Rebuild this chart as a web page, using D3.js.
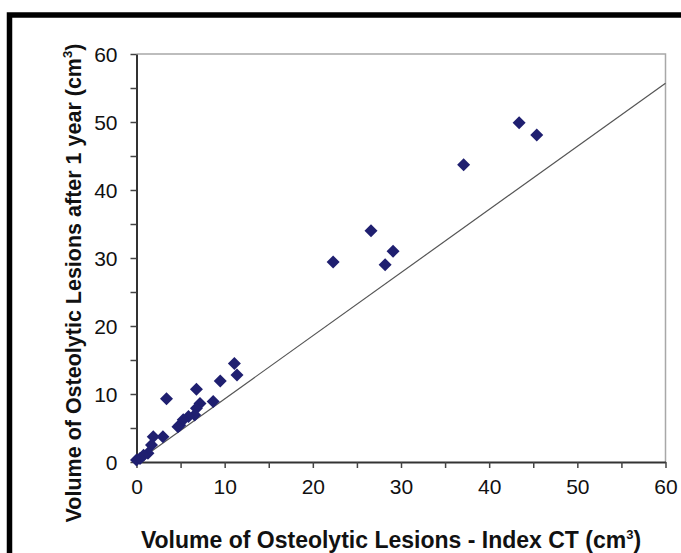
<!DOCTYPE html>
<html>
<head>
<meta charset="utf-8">
<script src="https://cdn.jsdelivr.net/npm/d3@7"></script>
<style>
  body { margin: 0; background: #fff; }
  svg { display: block; font-family: "Liberation Sans", Arial, sans-serif; }
</style>
</head>
<body>
<svg id="chart" width="681" height="553"></svg>
<script>
// lesion volumes, index CT (x) vs after 1 year (y), cm3
const indexCT = [43.4, 45.4, 37.1, 26.6, 29.1, 28.2, 22.3,
  11.1, 11.4, 9.5, 6.8, 3.4, 8.7, 7.2, 6.8, 6.6, 5.9, 5.3, 4.9, 4.7,
  3.0, 1.9, 1.7, 1.3, 0.8, 0.0, 0.4];
const afterYear = [49.9, 48.1, 43.7, 34.0, 31.0, 29.0, 29.4,
  14.5, 12.8, 11.9, 10.7, 9.3, 8.9, 8.6, 7.9, 6.9, 6.7, 6.2, 5.4, 5.2,
  3.7, 3.7, 2.5, 1.3, 1.0, 0.3, 0.5];
const fitLine = [[0, 0], [60, 55.7]];
const tickVals = d3.range(0, 61, 5);

const svg = d3.select('#chart');
const margin = { left: 136.5, right: 665.5, top: 54, bottom: 462 };

const x = d3.scaleLinear().domain([0, 60]).range([margin.left, margin.right]);
const y = d3.scaleLinear().domain([0, 60]).range([margin.bottom, margin.top]);

// black frame of the figure panel
svg.append('rect')
  .attr('x', 9.5).attr('y', 15)
  .attr('width', 700).attr('height', 560)
  .attr('fill', 'none')
  .attr('stroke', '#000')
  .attr('stroke-width', 5.5);

// plot box, top and right in grey
svg.append('path')
  .attr('d', `M${x(0)},${y(60)}H${x(60)}V${y(0)}`)
  .attr('fill', 'none')
  .attr('stroke', '#a8a8a8')
  .attr('stroke-width', 1.5);

// fit line
svg.append('line')
  .attr('x1', x(fitLine[0][0])).attr('y1', y(fitLine[0][1]))
  .attr('x2', x(fitLine[1][0])).attr('y2', y(fitLine[1][1]))
  .attr('stroke', '#555')
  .attr('stroke-width', 1.2);

const fmt = d => (d % 10 === 0 ? d : '');

const xAxis = svg.append('g')
  .attr('transform', `translate(0,${y(0)})`)
  .call(d3.axisBottom(x).tickValues(tickVals).tickFormat(fmt).tickSize(6).tickSizeOuter(0));
const yAxis = svg.append('g')
  .attr('transform', `translate(${x(0)},0)`)
  .call(d3.axisLeft(y).tickValues(tickVals).tickFormat(fmt).tickSize(6).tickSizeOuter(0));

[xAxis, yAxis].forEach(function (g) {
  g.attr('font-size', 21).attr('font-family', '"Liberation Sans", Arial, sans-serif');
  g.select('.domain').attr('stroke', '#333').attr('stroke-width', 2);
  g.selectAll('.tick line').attr('stroke', '#444').attr('stroke-width', 1.5);
  g.selectAll('.tick text').attr('fill', '#111');
});
xAxis.selectAll('.tick text').attr('y', 17).attr('dy', '0.71em');
yAxis.selectAll('.tick text').attr('x', -19).attr('dy', '0.36em');

// points
const pts = indexCT.map(function (v, i) { return [v, afterYear[i]]; });
svg.append('g')
  .selectAll('path')
  .data(pts)
  .enter()
  .append('path')
  .attr('transform', function (d) { return `translate(${x(d[0])},${y(d[1])})`; })
  .attr('d', 'M0,-6.5L6.5,0L0,6.5L-6.5,0Z')
  .attr('fill', '#1f1f70');

// axis titles
const xt = svg.append('text')
  .attr('x', 391)
  .attr('y', 548)
  .attr('text-anchor', 'middle')
  .attr('font-size', 23)
  .attr('font-weight', 'bold')
  .attr('fill', '#111');
xt.append('tspan').text('Volume of Osteolytic Lesions - Index CT (cm');
xt.append('tspan').attr('dy', -9).attr('font-size', 13).text('3');
xt.append('tspan').attr('dy', 9).text(')');

const yt = svg.append('text')
  .attr('transform', 'translate(81,283) rotate(-90)')
  .attr('text-anchor', 'middle')
  .attr('font-size', 21.5)
  .attr('font-weight', 'bold')
  .attr('fill', '#111');
yt.append('tspan').text('Volume of Osteolytic Lesions after 1 year (cm');
yt.append('tspan').attr('dy', -9).attr('font-size', 13).text('3');
yt.append('tspan').attr('dy', 9).text(')');
</script>
</body>
</html>
